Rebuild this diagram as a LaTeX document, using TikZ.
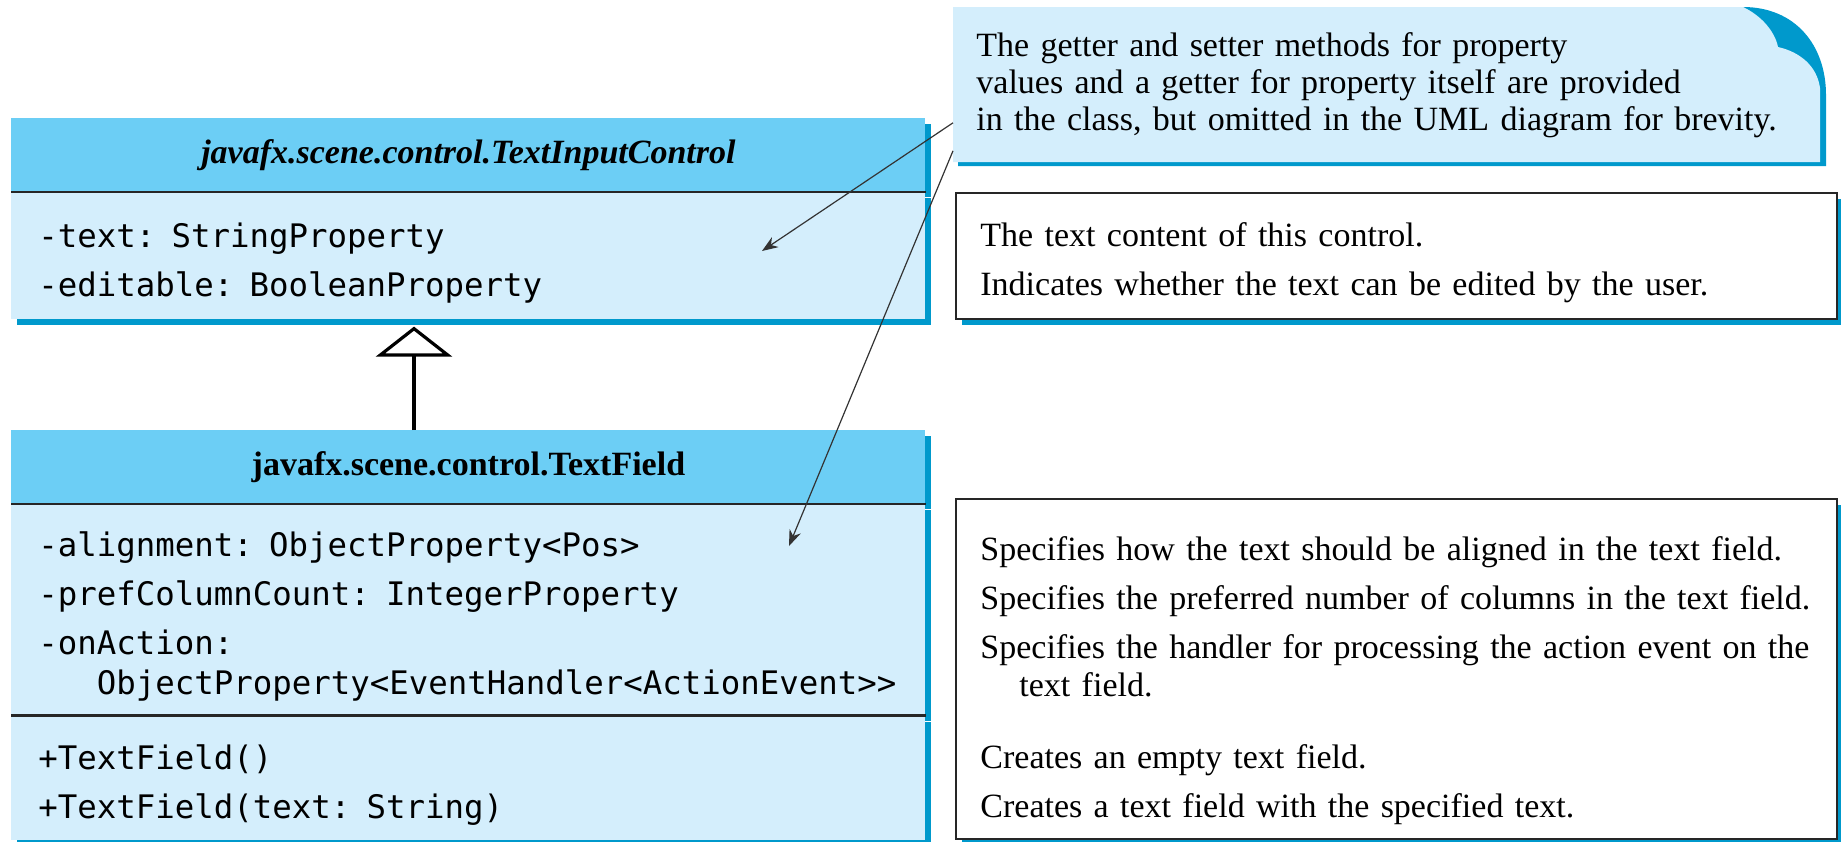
\documentclass[tikz,border=0pt]{standalone}
\usepackage{fontspec}
\setmainfont{Liberation Serif}
\newfontfamily\umlmono{DejaVu Sans Mono}
\usetikzlibrary{positioning,shadows,backgrounds,arrows.meta}
\definecolor{headblue}{RGB}{108,206,245}
\definecolor{bodyblue}{RGB}{212,238,252}
\definecolor{shadeblue}{RGB}{0,153,204}
\newcommand{\umlAttr}[0]{\fontsize{16.2}{24.5}\umlmono}
\newcommand{\umlDesc}[0]{\fontsize{17}{24.5}\selectfont}
\newcommand{\umlHead}[0]{\fontsize{17}{20}\selectfont}

\begin{document}
\begin{tikzpicture}[x=0.5pt, y=-0.5pt]
  \tikzset{
    every node/.style={inner ysep=0pt},
    boxshade/.style={drop shadow={shadow xshift=2.75pt, shadow yshift=-2.75pt, fill=shadeblue, opacity=1}},
    classhead/.style={boxshade, fill=headblue, minimum width=457pt, minimum height=36.5pt, inner xsep=0pt, font=\umlHead},
    classbody/.style={boxshade, fill=bodyblue, text width=430pt, inner xsep=13.5pt, align=left, font=\umlAttr, execute at begin node={\rule{0pt}{19.3pt}}},
    descbox/.style={boxshade, draw=black!85, line width=1pt, fill=white, minimum width=440.5pt, inner sep=0pt},
    desctext/.style={text width=425pt, inner xsep=12.5pt, align=left, font=\umlDesc, yshift=-3.5pt},
    notetext/.style={text width=410.5pt, inner xsep=11.5pt, minimum height=77.5pt, align=left, font=\fontsize{17}{18.5}\selectfont},
    sepline/.style={line width=1.3pt, draw=black!85},
    pointer/.style={-{Stealth[length=8pt,width=6pt]}, line width=0.6pt, draw=black!80},
    inherit/.style={-{Triangle[open,length=15pt,width=38pt]}, line width=1.6pt}
  }
  \useasboundingbox (0,0) rectangle (1841,841);

  \node[classhead, anchor=north west] (tic-head) at (11,118) {\textbf{\textit{javafx.scene.control.TextInputControl}}};
  \node[classbody, below=0pt of tic-head, minimum height=63.5pt] (tic-attr) {-text: StringProperty\\-editable: BooleanProperty};

  \node[classhead, anchor=north west] (tf-head) at (11,430) {\textbf{javafx.scene.control.TextField}};
  \node[classbody, below=0pt of tf-head, minimum height=105.5pt] (tf-attr) {-alignment: ObjectProperty<Pos>\\-prefColumnCount: IntegerProperty\\-onAction:\\[-4.5pt]\hspace*{29.2pt}\rlap{ObjectProperty<EventHandler<ActionEvent>\kern0pt>}};
  \node[classbody, below=0pt of tf-attr, minimum height=62pt] (tf-meth) {+TextField()\\+TextField(text: String)};

  \draw[sepline] (tic-head.south west) -- (tic-head.south east);
  \draw[sepline] (tf-head.south west) -- (tf-head.south east);
  \draw[sepline] (tf-attr.south west) -- (tf-attr.south east);

  \node[descbox, anchor=north west, minimum height=63pt] (tic-desc) at (955,192) {};
  \node[desctext, anchor=west] (tic-desc-text) at (tic-attr.center -| tic-desc.west) {The text content of this control.\\Indicates whether the text can be edited by the user.};

  \node[descbox, anchor=north west, minimum height=170pt] (tf-desc) at (955,498) {};
  \node[desctext, anchor=west] (tf-desc-attr) at (tf-attr.center -| tf-desc.west) {Specifies how the text should be aligned in the text field.\\Specifies the preferred number of columns in the text field.\\Specifies the handler for processing the action event on the\\[-5.5pt]\hspace*{19.5pt}text field.};
  \node[desctext, anchor=west] (tf-desc-meth) at (tf-meth.center -| tf-desc.west) {Creates an empty text field.\\Creates a text field with the specified text.};

  \node[notetext, anchor=north west] (note) at (953,7) {The getter and setter methods for property\\values and a getter for property itself are provided\\in the class, but omitted in the UML diagram for brevity.};
  \begin{scope}[on background layer]
    \fill[shadeblue] (1743,7) .. controls (1795,7) and (1826,45) .. (1826,95) -- (1826,166) -- (958,166) -- (958,12) -- cycle;
    \fill[bodyblue] (953,7) -- (1743,7) .. controls (1762,16) and (1775,32) .. (1778,47) .. controls (1800,52) and (1817,66) .. (1820,88) -- (1820,162) -- (953,162) -- cycle;
  \end{scope}

  \coordinate (tic-pointer) at (762,251);
  \coordinate (tf-pointer) at (789,546);
  \draw[pointer] ([yshift=20pt]note.south west) -- (tic-pointer);
  \draw[pointer] ([yshift=6pt]note.south west) -- (tf-pointer);

  \draw[inherit] ([xshift=201.5pt]tf-head.north west) -- ([xshift=201.5pt, yshift=-3.5pt]tic-attr.south west);
\end{tikzpicture}
\end{document}
